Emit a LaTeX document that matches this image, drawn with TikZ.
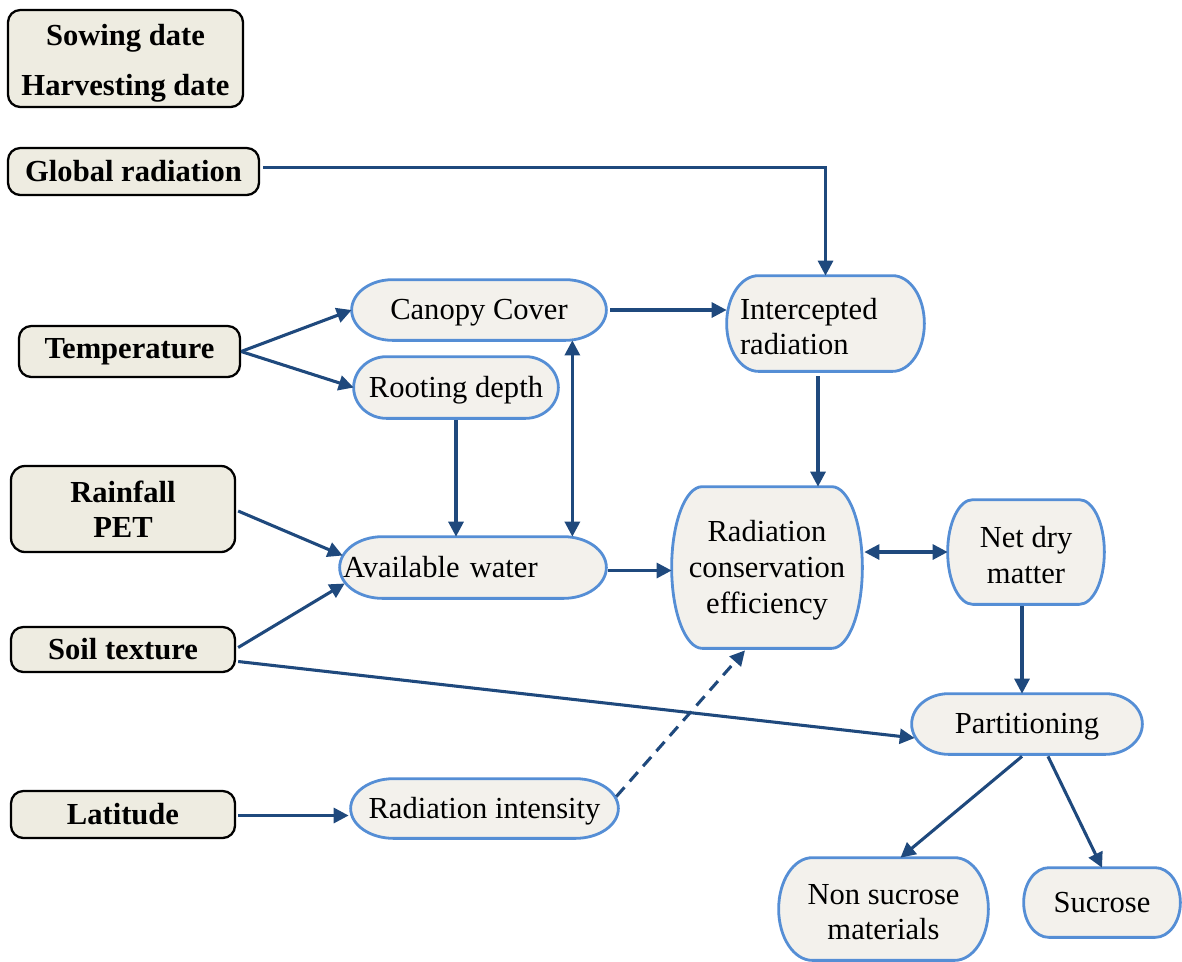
\documentclass[tikz,border=0pt]{standalone}
\usepackage{fontspec}
\setmainfont{Liberation Serif}
\usetikzlibrary{arrows.meta,calc,backgrounds}
\definecolor{boxfill}{HTML}{EEECE1}
\definecolor{capfill}{HTML}{F3F1EC}
\definecolor{capline}{HTML}{558ED5}
\definecolor{flow}{HTML}{1F497D}

\tikzset{
  sz/.style 2 args={minimum width=#1*0.02cm, minimum height=#2*0.02cm},
  inbox/.style={draw=black, line width=1.3pt, fill=boxfill, rounded corners=7pt,
    inner sep=0pt, font=\fontsize{17.4}{20}\selectfont\bfseries, align=center},
  capsule/.style={inner sep=0pt, align=center, font=\fontsize{17.4}{20}\selectfont},
  capedge/.style={draw=capline, line width=1.6pt, fill=capfill},
  flowline/.style={draw=flow, line width=1.75pt, -{Triangle[length=8.5pt,width=8.5pt]}},
  twoway/.style={{Triangle[length=8.5pt,width=8.5pt]}-{Triangle[length=8.5pt,width=8.5pt]}},
}

% one line of text set slightly lower, keeping its layout size
\newcommand\lw[1]{\raisebox{-1.7pt}[\height][\depth]{#1}}

% terminator outline: flat top and bottom, elliptical sides
\newcommand\capoutline[1]{%
  \path[capedge] let \p1=(#1.north west), \p2=(#1.south east),
      \n1={0.1607*(\x2-\x1)}, \n2={(\y1-\y2)/2} in
    (\x1+\n1*1pt,\y1) -- (\x2-\n1*1pt,\y1)
    arc[start angle=90, end angle=-90, x radius=\n1*1pt, y radius=\n2*1pt]
    -- (\x1+\n1*1pt,\y2)
    arc[start angle=270, end angle=90, x radius=\n1*1pt, y radius=\n2*1pt]
    -- cycle;}

\begin{document}
\begin{tikzpicture}[x=0.02cm, y=-0.02cm]
\useasboundingbox (0,0) rectangle (1182,961);

% input boxes
\node[inbox, sz={235}{97}] (sow) at (125.5,58.5) {\rule{0pt}{17.4pt}Sowing date\\[8.3pt]Harvesting date};
\node[inbox, sz={251}{47}] (gr) at (133.5,171.5) {Global radiation};
\node[inbox, sz={221}{51}] (temp) at (129.5,351.5) {Temperature};
\node[inbox, sz={224}{86}, rounded corners=8pt] (rain) at (123,509) {Rainfall\\PET};
\node[inbox, sz={224}{45}] (soil) at (123,649.5) {Soil texture};
\node[inbox, sz={224}{47}] (lat) at (123,814.5) {Latitude};

% process nodes
\node[capsule, sz={254}{60}] (cc) at (479,310) {\lw{Canopy Cover}};
\node[capsule, sz={204}{61}] (rd) at (456,387.5) {\lw{Rooting depth}};
\node[capsule, sz={197}{95}, text width=3.42cm, align=left] (ir) at (825.5,323.5) {\lw{Intercepted}\\\lw{radiation}};
\node[capsule, sz={266}{61}, text width=5.2cm, align=left] (aw) at (473,567.5) {Available water};
\node[capsule, sz={190}{161}, font=\fontsize{17.4}{20.4}\selectfont] (rce) at (767,567.5) {\lw{Radiation}\\\lw{conservation}\\\lw{efficiency}};
\node[capsule, sz={156}{104}] (ndm) at (1026,552) {\lw{Net dry}\\\lw{matter}};
\node[capsule, sz={230}{60}] (part) at (1027,724) {\lw{Partitioning}};
\node[capsule, sz={267}{59}] (ri) at (484.5,808.5) {\lw{Radiation intensity}};
\node[capsule, sz={209}{102}] (ns) at (883.5,909) {\lw{Non sucrose}\\\lw{materials}};
\node[capsule, sz={156}{69}] (suc) at (1102,902.5) {\lw{\vphantom{p}Sucrose}};

\begin{scope}[on background layer]
  \foreach \nm in {cc,rd,ir,aw,rce,ndm,part,ri,ns,suc} {\capoutline{\nm}}
\end{scope}

% connectors
\draw[flowline] ($(gr.east)+(3,-4)$) -| (ir.north);
\draw[flowline] (temp.east) -- (cc.west);
\draw[flowline] (temp.east) -- (rd.west);
\draw[flowline] ($(cc.east)+(4,0)$) -- (cc.east -| ir.west);
\draw[flowline] ($(rd.south)+(0,2)$) -- (rd.south |- aw.north);
\draw[flowline, twoway] ($(cc.south east)+(-34,0)$) -- ($(aw.north east)+(-34,0)$);
\coordinate (irout) at ($(ir.south)+(-7.5,5)$);
\draw[flowline] (irout) -- (irout |- rce.north);
\draw[flowline] ($(rain.east)+(2,2)$) -- ($(aw.west)+(3,-12)$);
\draw[flowline] ($(soil.east)+(2,-2)$) -- ($(aw.west)+(5,16)$);
\draw[flowline] ($(soil.east)+(2,12)$) -- ($(part.west)+(3,14)$);
\draw[flowline] ($(aw.east)+(2,3)$) -- ($(aw.east -| rce.west)+(0,3)$);
\draw[flowline, twoway] ($(ndm.west -| rce.east)+(2,0)$) -- (ndm.west);
\draw[flowline] ($(ndm.south)+(-4,2)$) -- ($(ndm.south |- part.north)+(-4,0)$);
\draw[flowline] ($(part.south)+(-5,2)$) -- ($(ns.north)+(17,0)$);
\draw[flowline] ($(part.south)+(21,2)$) -- (suc.north);
\draw[flowline] ($(lat.east)+(2,1)$) -- ($(lat.east -| ri.west)+(-2,1)$);
\draw[flowline, dashed, dash pattern=on 7pt off 4.5pt] ($(ri.east)+(-2,-12)$) -- ($(rce.south)+(-22,2)$);
\end{tikzpicture}
\end{document}
